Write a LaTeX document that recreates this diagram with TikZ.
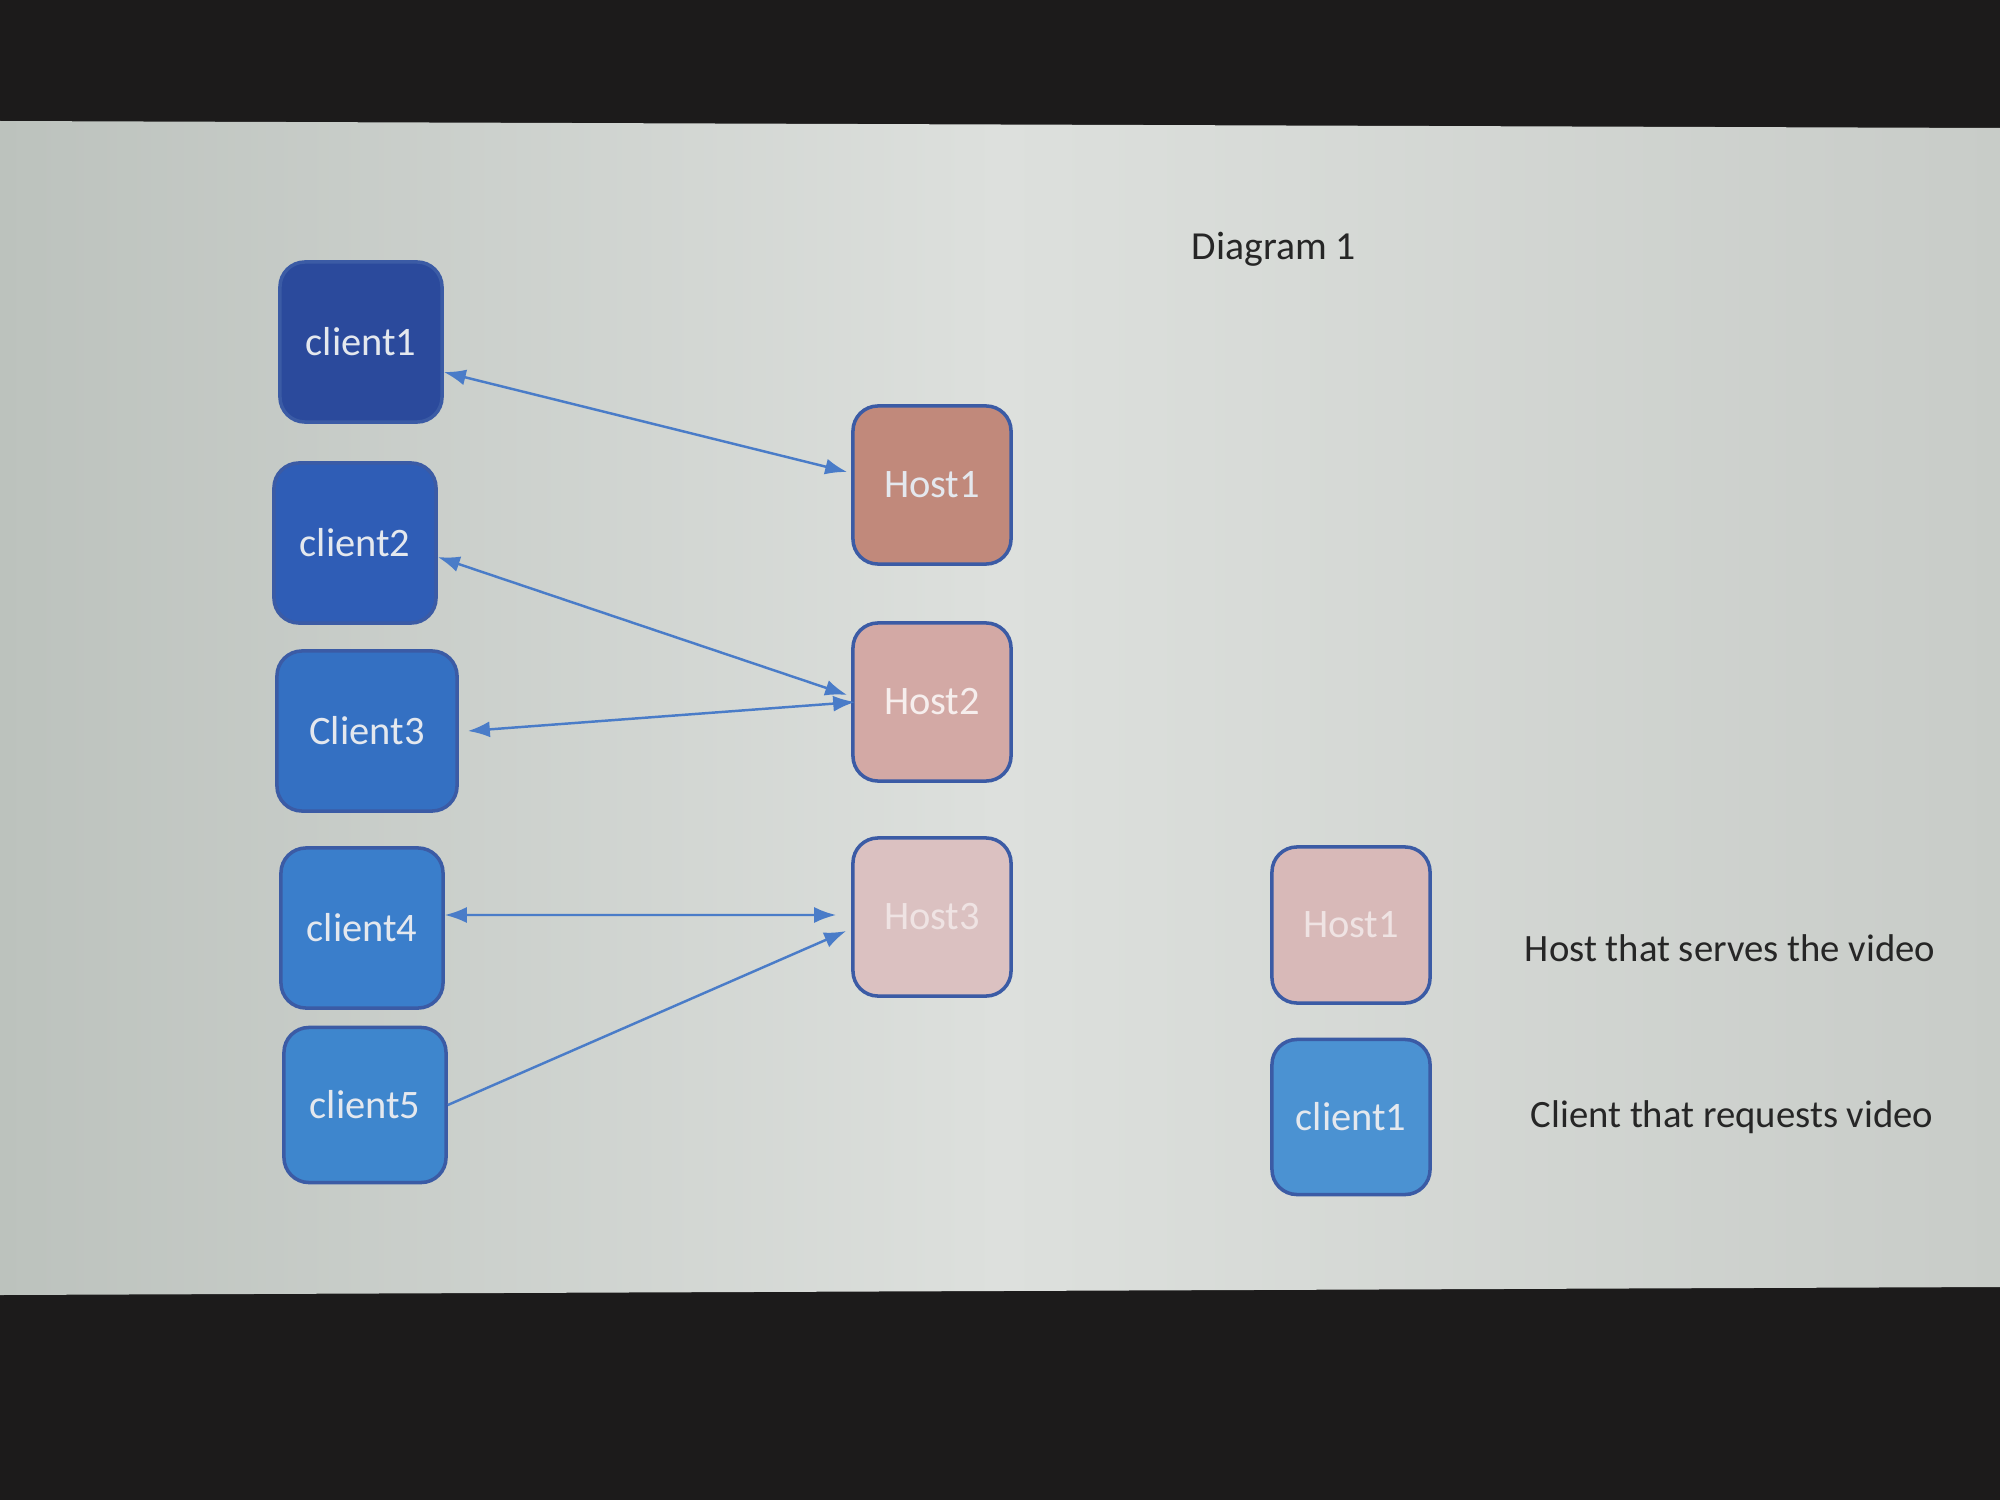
\documentclass[tikz,border=0pt]{standalone}
\usepackage{fontspec}
\setmainfont{Carlito}
\usetikzlibrary{arrows.meta}
\definecolor{scrL}{HTML}{BCC2BD}
\definecolor{scrM}{HTML}{DDE0DD}
\definecolor{scrR}{HTML}{C8CCC8}
\definecolor{darkband}{HTML}{1C1B1B}
\definecolor{cA}{HTML}{2B4A9C}
\definecolor{cB}{HTML}{2F5DB6}
\definecolor{cC}{HTML}{3470C2}
\definecolor{cD}{HTML}{3A7ECB}
\definecolor{cE}{HTML}{3E86CD}
\definecolor{cF}{HTML}{4B92D2}
\definecolor{hA}{HTML}{C1897B}
\definecolor{hB}{HTML}{D3A9A5}
\definecolor{hC}{HTML}{DBC1C1}
\definecolor{hD}{HTML}{D8B9B8}
\definecolor{edgeblue}{HTML}{3B5BA5}
\definecolor{linkblue}{HTML}{4A7CC8}
\definecolor{lbl}{HTML}{E4E8EE}
\tikzset{
  box/.style={draw=edgeblue, line width=1pt, rounded corners=0.25cm, align=center,
    font=\fontsize{11.5}{14}\selectfont, text=lbl, inner sep=0pt},
  cbox/.style={box, minimum width=1.62cm, minimum height=1.6cm},
  hbox/.style={box, minimum width=1.58cm, minimum height=1.58cm},
  link/.style={draw=linkblue, line width=0.7pt, {Latex[length=2.2mm,width=1.6mm]}-{Latex[length=2.2mm,width=1.6mm]}},
  onelink/.style={draw=linkblue, line width=0.7pt, -{Latex[length=2.2mm,width=1.6mm]}},
  legendtxt/.style={font=\fontsize{11}{14}\selectfont, text=black!85},
}
\begin{document}
\begin{tikzpicture}[x=0.01cm, y=-0.01cm]
\useasboundingbox (0,0) rectangle (2000,1500);
\fill[darkband] (0,0) rectangle (2000,1500);
\shade[left color=scrL, right color=scrR, middle color=scrM] (0,121) -- (2000,128) -- (2000,1287) -- (0,1295) -- cycle;

\node[legendtxt, font=\fontsize{11.3}{14}\selectfont] (title) at (1274,249) {Diagram 1};

\node[cbox, fill=cA] (c1) at (361,342) {client1};
\node[cbox, fill=cB] (c2) at (355,543) {client2};
\node[cbox, fill=cC, minimum width=1.8cm] (c3) at (367,731) {Client3};
\node[cbox, fill=cD] (c4) at (362,928) {client4};
\node[cbox, fill=cE, minimum height=1.55cm] (c5) at (365,1105) {client5};

\node[hbox, fill=hA] (h1) at (932,485) {Host1};
\node[hbox, fill=hB, text=white!80!hB] (h2) at (932,702) {Host2};
\node[hbox, fill=hC, text=white!55!hC] (h3) at (932,917) {Host3};

\node[hbox, fill=hD, text=white!60!hD, minimum height=1.56cm] (lh) at (1351,925) {Host1};
\node[hbox, fill=cF, minimum height=1.55cm] (lc) at (1351,1117) {client1};

\node[legendtxt] (lht) at (1730,948) {Host that serves the video};
\node[legendtxt] (lct) at (1732,1117) {Client that requests video};

\draw[link] ([yshift=-0.3cm]c1.east) -- ([xshift=-0.04cm,yshift=0.13cm]h1.west);
\draw[link] ([yshift=-0.14cm]c2.east) -- ([xshift=-0.04cm,yshift=0.07cm]h2.west);
\draw[link] ([xshift=0.09cm]c3.east) -- ([xshift=0.04cm]h2.west);
\draw[link] ([yshift=0.13cm]c4.east) -- ([xshift=-0.15cm,yshift=0.02cm]h3.west);
\draw[onelink] (c5.east) -- ([xshift=-0.05cm,yshift=-0.14cm]h3.west);
\end{tikzpicture}
\end{document}
